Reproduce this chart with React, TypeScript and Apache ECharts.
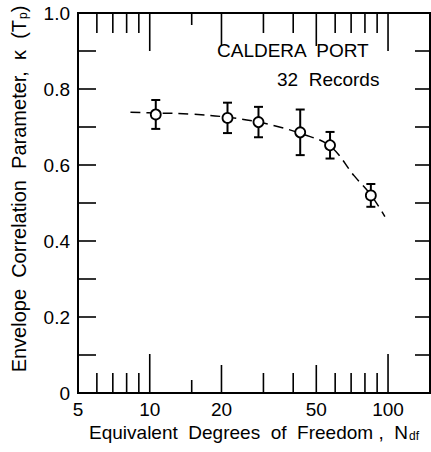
import React, { useEffect, useRef } from "react";
import * as echarts from "echarts";

// Data
const pointDf = [10.6, 21.2, 28.6, 42.8, 57.1, 84.7];
const pointKappa = [0.733, 0.724, 0.713, 0.686, 0.652, 0.52];
const pointErr = [0.038, 0.04, 0.04, 0.06, 0.035, 0.03];

const curveDf = [8.3, 10.6, 15, 21, 28.6, 35, 43, 57, 72, 85, 97];
const curveKappa = [0.739, 0.737, 0.734, 0.726, 0.713, 0.7, 0.683, 0.65, 0.572, 0.52, 0.464];

const xTickValues = [6, 7, 8, 9, 10, 15, 20, 30, 40, 50, 60, 70, 80, 90, 100];
const xLabelValues = [5, 10, 20, 50, 100];

const FONT = '"Liberation Sans", Arial, sans-serif';

function tickLens(v: number): [number, number] {
  if (v === 10 || v === 100) return [39, 38];
  if (v === 20 || v === 50) return [28, 33];
  if (v === 15) return [13, 12];
  return [20, 20];
}

export default function App() {
  const ref = useRef<HTMLDivElement>(null);
  useEffect(() => {
    const chart = echarts.init(ref.current!, null, { renderer: "svg" });
    const option: any = {
      animation: false,
      backgroundColor: "#fff",
      grid: {
        left: 78,
        right: 1,
        top: 13,
        bottom: 59,
        show: true,
        borderColor: "#000",
        borderWidth: 2,
        backgroundColor: "transparent",
        containLabel: false,
        outerBoundsMode: "none",
      },
      xAxis: {
        type: "log",
        logBase: 10,
        min: 5,
        max: 150,
        axisLine: { show: false },
        axisTick: { show: false },
        axisLabel: { show: false },
        splitLine: { show: false },
        name: "{a|Equivalent  Degrees  of  Freedom ,  N}{s|df}",
        nameLocation: "middle",
        nameGap: 30,
        nameTextStyle: {
          rich: {
            a: { fontSize: 19, fontFamily: FONT, color: "#000" },
            s: { fontSize: 12, fontFamily: FONT, color: "#000", padding: [6, 0, 0, 1] },
          },
        },
      },
      yAxis: [
        {
          type: "value",
          min: 0,
          max: 1,
          interval: 0.1,
          axisLine: { show: false },
          axisTick: { show: true, inside: true, length: 18, lineStyle: { color: "#000", width: 1.6 } },
          axisLabel: {
            margin: 8,
            fontSize: 19,
            fontFamily: FONT,
            color: "#000",
            formatter: (v: number) => {
              const r = Math.round(v * 10);
              if (r % 2 !== 0) return "";
              if (r === 0) return "0";
              return (r / 10).toFixed(1);
            },
          },
          splitLine: { show: false },
        },
        {
          type: "value",
          position: "right",
          min: 0,
          max: 1,
          interval: 0.1,
          axisLine: { show: false },
          axisTick: { show: true, inside: true, length: 15, lineStyle: { color: "#000", width: 1.6 } },
          axisLabel: { show: false },
          splitLine: { show: false },
        },
      ],
      graphic: [
        {
          type: "text",
          x: 19,
          y: 189,
          rotation: Math.PI / 2,
          style: {
            text: "{a|Envelope  Correlation  Parameter,  κ  (T}{s|p}{a|)}",
            align: "center",
            verticalAlign: "middle",
            rich: {
              a: { fontSize: 20, fontFamily: FONT, fill: "#000" },
              s: { fontSize: 12, fontFamily: FONT, fill: "#000", padding: [7, 0, 0, 1] },
            },
          },
        },
        {
          type: "text",
          left: 217,
          top: 41,
          style: { text: "CALDERA  PORT", fontSize: 19, fontFamily: FONT, fill: "#000" },
        },
        {
          type: "text",
          left: 277,
          top: 70,
          style: { text: "32  Records", fontSize: 19, fontFamily: FONT, fill: "#000" },
        },
      ],
      series: [
        {
          type: "custom",
          clip: false,
          silent: true,
          data: xTickValues.map((v) => [v, 0]),
          renderItem: (params: any, api: any) => {
            const v = api.value(0);
            const b = api.coord([v, 0]);
            const t = api.coord([v, 1]);
            const [lb, lt] = tickLens(v);
            const st = { stroke: "#000", lineWidth: 1.6 };
            return {
              type: "group",
              children: [
                { type: "line", shape: { x1: b[0], y1: b[1], x2: b[0], y2: b[1] - lb }, style: st },
                { type: "line", shape: { x1: t[0], y1: t[1], x2: t[0], y2: t[1] + lt }, style: st },
              ],
            };
          },
        },
        {
          type: "custom",
          clip: false,
          silent: true,
          data: xLabelValues.map((v) => [v, 0]),
          renderItem: (params: any, api: any) => {
            const v = api.value(0);
            const b = api.coord([v, 0]);
            return {
              type: "text",
              style: {
                text: String(v),
                x: b[0],
                y: b[1] + 7,
                fill: "#000",
                font: `19px ${FONT}`,
                align: "center",
                verticalAlign: "top",
              },
            };
          },
        },
        {
          type: "line",
          data: curveDf.map((x, i) => [x, curveKappa[i]]),
          smooth: 0.4,
          symbol: "none",
          lineStyle: { color: "#000", width: 1.5, type: [10, 6] },
          z: 2,
        },
        {
          type: "custom",
          clip: false,
          silent: true,
          z: 3,
          data: pointDf.map((x, i) => [x, pointKappa[i], pointErr[i]]),
          renderItem: (params: any, api: any) => {
            const x = api.value(0);
            const y = api.value(1);
            const e = api.value(2);
            const top = api.coord([x, y + e]);
            const bot = api.coord([x, y - e]);
            const h = 4.5;
            const st = { stroke: "#000", lineWidth: 2 };
            return {
              type: "group",
              children: [
                { type: "line", shape: { x1: top[0], y1: top[1], x2: bot[0], y2: bot[1] }, style: st },
                { type: "line", shape: { x1: top[0] - h, y1: top[1], x2: top[0] + h, y2: top[1] }, style: st },
                { type: "line", shape: { x1: bot[0] - h, y1: bot[1], x2: bot[0] + h, y2: bot[1] }, style: st },
              ],
            };
          },
        },
        {
          type: "scatter",
          data: pointDf.map((x, i) => [x, pointKappa[i]]),
          symbol: "circle",
          symbolSize: 10,
          itemStyle: { color: "#fff", borderColor: "#000", borderWidth: 1.8, opacity: 1 },
          z: 4,
        },
      ],
    };
    chart.setOption(option);
    return () => chart.dispose();
  }, []);
  return (
    <div
      ref={ref}
      style={{ position: "fixed", left: 0, top: 0, width: 431, height: 452, background: "#fff" }}
    />
  );
}
